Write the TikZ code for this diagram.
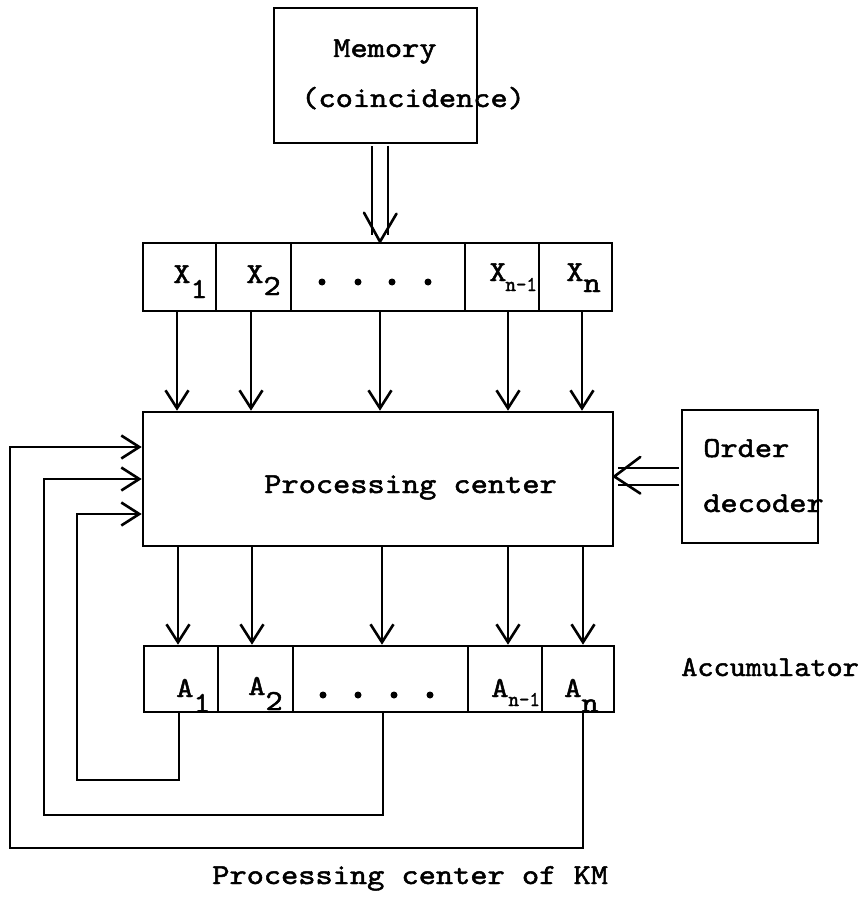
\documentclass[tikz,border=0pt]{standalone}
\usepackage{graphicx}
\usepackage{fontspec}
\usetikzlibrary{arrows.meta,calc}
% heavier typewriter face, slightly widened
\newfontfamily\typefont{lmmono10-regular.otf}[FakeBold=1.6]
\newcommand{\typw}[1]{\scalebox{1.13}[1]{#1}}
\newcommand{\subsm}[1]{{\fontsize{21}{24}\selectfont\scalebox{0.95}[1]{#1}}}
\begin{document}
\begin{tikzpicture}[x=1pt,y=-1pt,line width=2.6pt,
  box/.style={draw,rectangle,inner sep=0pt,line width=2.6pt},
  lbl/.style={font=\fontsize{29}{34}\selectfont\typefont,inner sep=0pt,anchor=base west},
  arr/.style={-{Straight Barb[length=18pt,width=23pt]}},
  dbl/.style={double distance=13.4pt,line width=2.6pt},
  dot/.style={circle,fill,inner sep=0pt,minimum size=7pt}]
\useasboundingbox (0,0) rectangle (864,904);

% ---- boxes ----
\node[box,minimum width=203pt,minimum height=135pt] (mem) at (375.5,75.5) {};
\node[box,minimum width=470pt,minimum height=134pt] (pc) at (378,479) {};
\node[box,minimum width=136pt,minimum height=133pt] (ord) at (750,476.5) {};

% operand register X
\node[box,minimum width=73pt,minimum height=68pt]  (x1) at (179.5,277) {};
\node[box,minimum width=75pt,minimum height=68pt]  (x2) at (253.5,277) {};
\node[box,minimum width=174pt,minimum height=68pt] (x3) at (378,277) {};
\node[box,minimum width=74pt,minimum height=68pt]  (x4) at (502,277) {};
\node[box,minimum width=73pt,minimum height=68pt]  (x5) at (575.5,277) {};

% accumulator register A
\node[box,minimum width=74pt,minimum height=66pt]  (a1) at (181,679) {};
\node[box,minimum width=75pt,minimum height=66pt]  (a2) at (255.5,679) {};
\node[box,minimum width=175pt,minimum height=66pt] (a3) at (380.5,679) {};
\node[box,minimum width=74pt,minimum height=66pt]  (a4) at (505,679) {};
\node[box,minimum width=72pt,minimum height=66pt]  (a5) at (578,679) {};

% ---- texts ----
\node[lbl] (tmem) at (332,57) {\typw{Memory}};
\node[lbl] (tcoin) at (300,107) {\typw{(coincidence)}};
\node[lbl] (tpc) at (263,493) {\typw{Processing center}};
\node[lbl] (tord) at (702,457) {\typw{Order}};
\node[lbl] (tdec) at (702,512) {\typw{decoder}};
\node[lbl] (tacc) at (680,676) {\scalebox{1.06}[1]{Accumulator}};
\node[lbl] (ttitle) at (211,884) {\typw{Processing center of KM}};

\node[lbl] (lx1) at (172,283) {\typw{X}\raisebox{-15pt}{\typw{1}}};
\node[lbl] (lx2) at (245,283) {\typw{X}\raisebox{-12pt}{\typw{2}}};
\node[lbl] (lx4) at (488,281) {\typw{X}\hspace{-1pt}\raisebox{-10pt}{\subsm{n-1}}};
\node[lbl] (lx5) at (565,281) {\typw{X}\raisebox{-11pt}{\typw{n}}};

\node[lbl] (la1) at (175,697) {\typw{A}\raisebox{-15pt}{\typw{1}}};
\node[lbl] (la2) at (247,695) {\typw{A}\raisebox{-15pt}{\typw{2}}};
\node[lbl] (la4) at (490,697) {\typw{A}\raisebox{-9pt}{\subsm{n-1}}};
\node[lbl] (la5) at (563,697) {\typw{A}\raisebox{-15pt}{\typw{n}}};

\foreach \i/\x in {1/322,2/358,3/392,4/428} \node[dot] (xd\i) at (\x,282) {};
\foreach \i/\x in {1/323,2/358,3/394,4/430} \node[dot] (ad\i) at (\x,695) {};

% ---- memory to register X (double arrow) ----
\coordinate (mtip) at ($(x3.north)+(2,0)$);
\draw[dbl,shorten <=1.3pt] (mem.south -| mtip) -- ($(mtip)+(0,-7)$);
\draw[line cap=round,line join=round] ($(mtip)+(-16,-29)$) -- (mtip) -- ($(mtip)+(16.5,-28)$);

% ---- order decoder to processing center (double arrow) ----
\coordinate (otip) at (pc.east |- ord.west);
\draw[dbl,double distance=14.4pt,shorten <=1.3pt] (ord.west) -- ($(otip)+(4,0)$);
\draw[line cap=round,line join=round] ($(otip)+(26,-19.5)$) -- (otip) -- ($(otip)+(26,17)$);

% ---- register X to processing center ----
\coordinate (cx1) at ($(x1.south)+(-2.5,0)$);
\coordinate (cx2) at ($(x2.south)+(-2.5,0)$);
\coordinate (cx3) at ($(x3.south)+(2,0)$);
\coordinate (cx4) at ($(x4.south)+(6,0)$);
\coordinate (cx5) at ($(x5.south)+(6.5,0)$);
\foreach \c in {cx1,cx2,cx3,cx4,cx5} \draw[arr] (\c) -- (\c |- pc.north);

% ---- processing center to accumulator ----
\coordinate (ca1) at ($(a1.north)+(-3,0)$);
\coordinate (ca2) at ($(a2.north)+(-3.5,0)$);
\coordinate (ca3) at ($(a3.north)+(1.5,0)$);
\coordinate (ca4) at ($(a4.north)+(3,0)$);
\coordinate (ca5) at ($(a5.north)+(5,0)$);
\foreach \c in {ca1,ca2,ca3,ca4,ca5} \draw[arr] (\c |- pc.south) -- (\c);

% ---- feedback from the accumulator ----
\coordinate (f1) at ($(a1.south)+(-2,0)$);
\coordinate (f2) at ($(a3.south)+(2.5,0)$);
\coordinate (f3) at ($(a5.south)+(5,0)$);
\draw[arr] (f1) |- (77,780) |- ($(pc.west)+(0,35)$);
\draw[arr] (f2) |- (44,815) |- (pc.west);
\draw[arr] (f3) |- (10,848) |- ($(pc.west)+(0,-32)$);
\end{tikzpicture}
\end{document}
